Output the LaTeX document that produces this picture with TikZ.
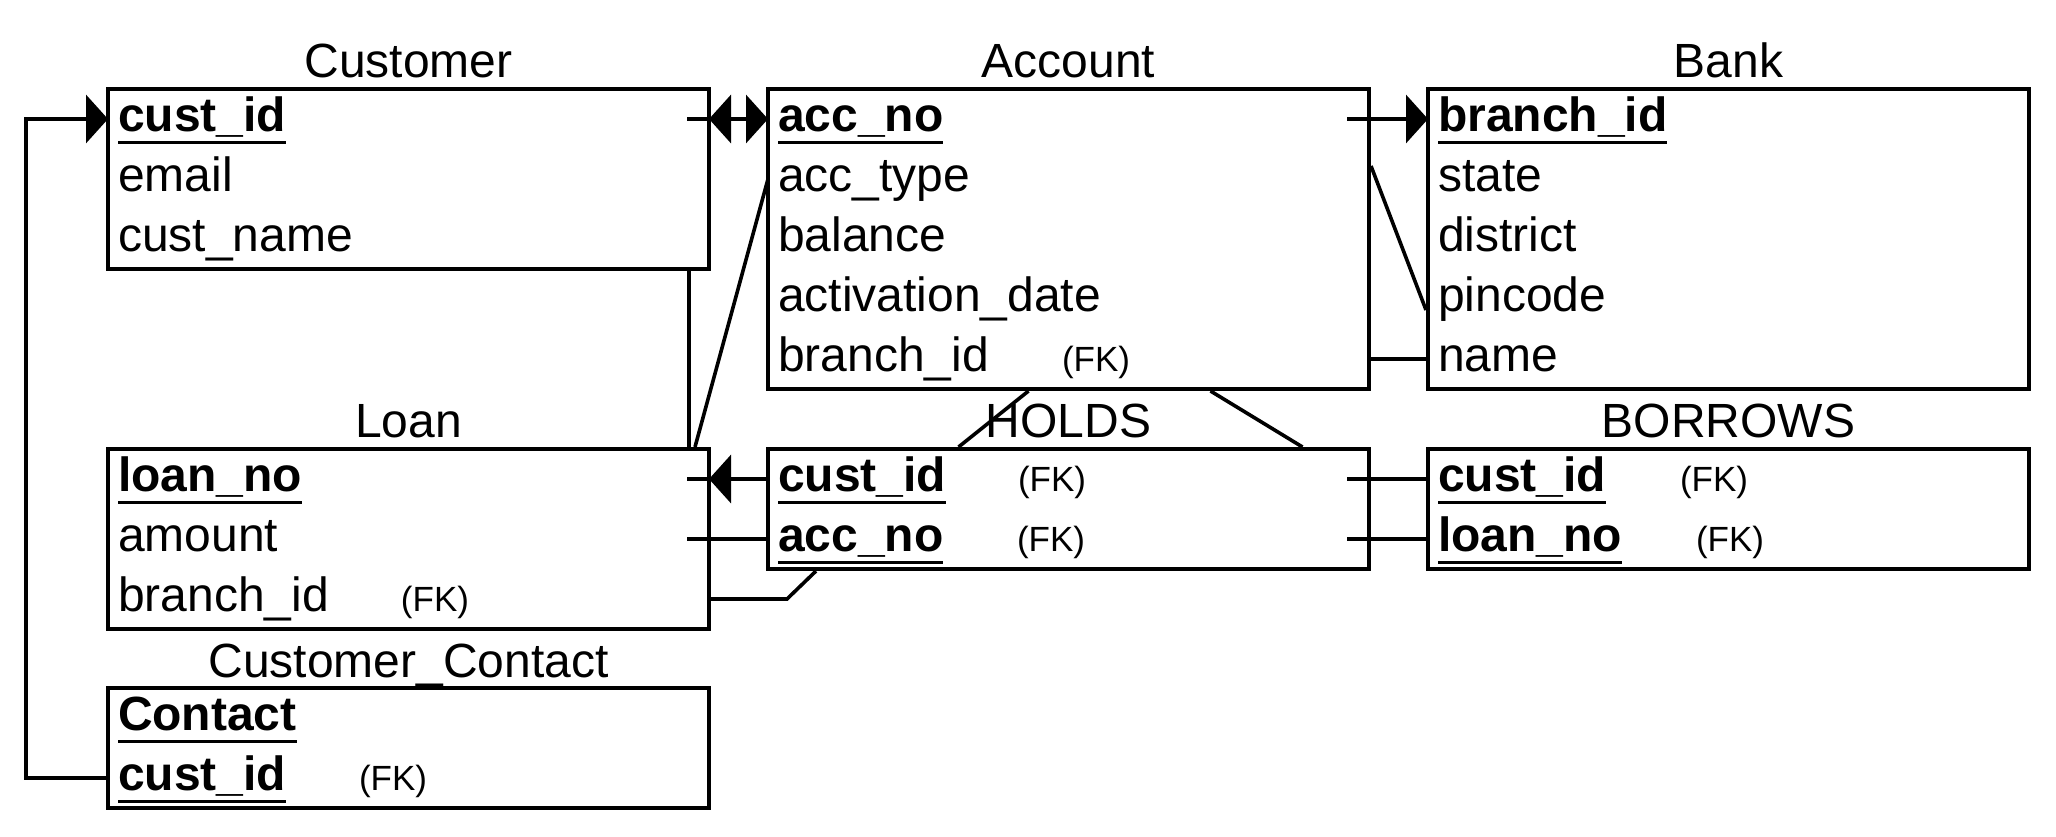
\documentclass[tikz,border=0pt]{standalone}
\usepackage{fontspec}
\setmainfont{Liberation Sans}
\usetikzlibrary{positioning, fit, arrows.meta}

\newsavebox\keybox
\newcommand{\keyfield}[1]{\sbox\keybox{\bfseries #1}\rlap{\rule[-6.2pt]{\wd\keybox}{1.7pt}}\usebox\keybox}
\newcommand{\fkfield}[2]{\makebox[#1][l]{#2}{\fontsize{17.5}{21}\selectfont(FK)}}

\begin{document}
\begin{tikzpicture}[x=0.5pt, y=-0.5pt, font=\fontsize{24}{28}\selectfont, line width=1.8pt, >={Triangle[length=11pt,width=24pt]}, attr/.style={anchor=north west, minimum height=30pt, text width=290.5pt, inner xsep=5pt, inner ysep=0pt, outer sep=0pt, align=left, text height=18pt, text depth=5.5pt}, entity/.style={draw, line width=2pt, inner sep=0pt}, entity name/.style={anchor=base}]
\useasboundingbox (0,0) rectangle (2056,836);

% Customer
\node[attr] (cust-1) at (108,89) {\keyfield{cust\_id}};
\node[attr, below=0pt of cust-1] (cust-2) {email};
\node[attr, below=0pt of cust-2] (cust-3) {cust\_name};
\node[entity, fit=(cust-1)(cust-3)] (Customer) {};
\node[entity name] (cust-title) at ([yshift=5pt]Customer.north) {Customer};

% Account
\node[attr] (acc-1) at (768,89) {\keyfield{acc\_no}};
\node[attr, below=0pt of acc-1] (acc-2) {acc\_type};
\node[attr, below=0pt of acc-2] (acc-3) {balance};
\node[attr, below=0pt of acc-3] (acc-4) {activation\_date};
\node[attr, below=0pt of acc-4] (acc-5) {\fkfield{142pt}{branch\_id}};
\node[entity, fit=(acc-1)(acc-5)] (Account) {};
\node[entity name] (acc-title) at ([yshift=5pt]Account.north) {Account};

% Bank
\node[attr] (bank-1) at (1428,89) {\keyfield{branch\_id}};
\node[attr, below=0pt of bank-1] (bank-2) {state};
\node[attr, below=0pt of bank-2] (bank-3) {district};
\node[attr, below=0pt of bank-3] (bank-4) {pincode};
\node[attr, below=0pt of bank-4] (bank-5) {name};
\node[entity, fit=(bank-1)(bank-5)] (Bank) {};
\node[entity name] (bank-title) at ([yshift=5pt]Bank.north) {Bank};

% Loan
\node[attr] (loan-1) at (108,449) {\keyfield{loan\_no}};
\node[attr, below=0pt of loan-1] (loan-2) {amount};
\node[attr, below=0pt of loan-2] (loan-3) {\fkfield{141.5pt}{branch\_id}};
\node[entity, fit=(loan-1)(loan-3)] (Loan) {};
\node[entity name] (loan-title) at ([yshift=5pt]Loan.north) {Loan};

% HOLDS
\node[attr] (holds-1) at (768,449) {\fkfield{120pt}{\keyfield{cust\_id}}};
\node[attr, below=0pt of holds-1] (holds-2) {\fkfield{119.5pt}{\keyfield{acc\_no}}};
\node[entity, fit=(holds-1)(holds-2)] (Holds) {};
\node[entity name] (holds-title) at ([yshift=5pt]Holds.north) {HOLDS};

% BORROWS
\node[attr] (bor-1) at (1428,449) {\fkfield{121pt}{\keyfield{cust\_id}}};
\node[attr, below=0pt of bor-1] (bor-2) {\fkfield{129pt}{\keyfield{loan\_no}}};
\node[entity, fit=(bor-1)(bor-2)] (Borrows) {};
\node[entity name] (bor-title) at ([yshift=5pt]Borrows.north) {BORROWS};

% Customer_Contact
\node[attr] (cc-1) at (108,688) {\keyfield{Contact}};
\node[attr, below=0pt of cc-1] (cc-2) {\fkfield{120.5pt}{\keyfield{cust\_id}}};
\node[entity, fit=(cc-1)(cc-2)] (Contact) {};
\node[entity name] (cc-title) at ([yshift=4.5pt]Contact.north) {Customer\_Contact};

% relations
\draw[->] (cc-2.west) -- ++(-82,0) |- (cust-1.west);
\draw ([xshift=-11pt]cust-1.east) -- (cust-1.east);
\draw[<->] (cust-1.east) -- (acc-1.west);
\draw[->] ([xshift=-11pt]acc-1.east) -- (bank-1.west);
\draw ([xshift=-11pt]Customer.south east) -- ([xshift=-11pt]Loan.north east);
\draw (acc-2.west) -- ([xshift=-8pt]Loan.north east);
\draw ([yshift=-39.5pt]Account.north east) -- ([yshift=-111.5pt]Bank.north west);
\draw (acc-5.east) -- (bank-5.west);
\draw ([xshift=-20pt]Account.south) -- ([xshift=-55pt]Holds.north);
\draw ([xshift=71pt]Account.south) -- ([xshift=117pt]Holds.north);
\draw ([xshift=-11pt]loan-1.east) -- (loan-1.east);
\draw[<-] (loan-1.east) -- (holds-1.west);
\draw ([xshift=-11pt]loan-2.east) -- (holds-2.west);
\draw (loan-3.east) -- ++(78,0) -- ([xshift=25pt]Holds.south west);
\draw ([xshift=-11pt]holds-1.east) -- (bor-1.west);
\draw ([xshift=-11pt]holds-2.east) -- (bor-2.west);
\end{tikzpicture}
\end{document}
